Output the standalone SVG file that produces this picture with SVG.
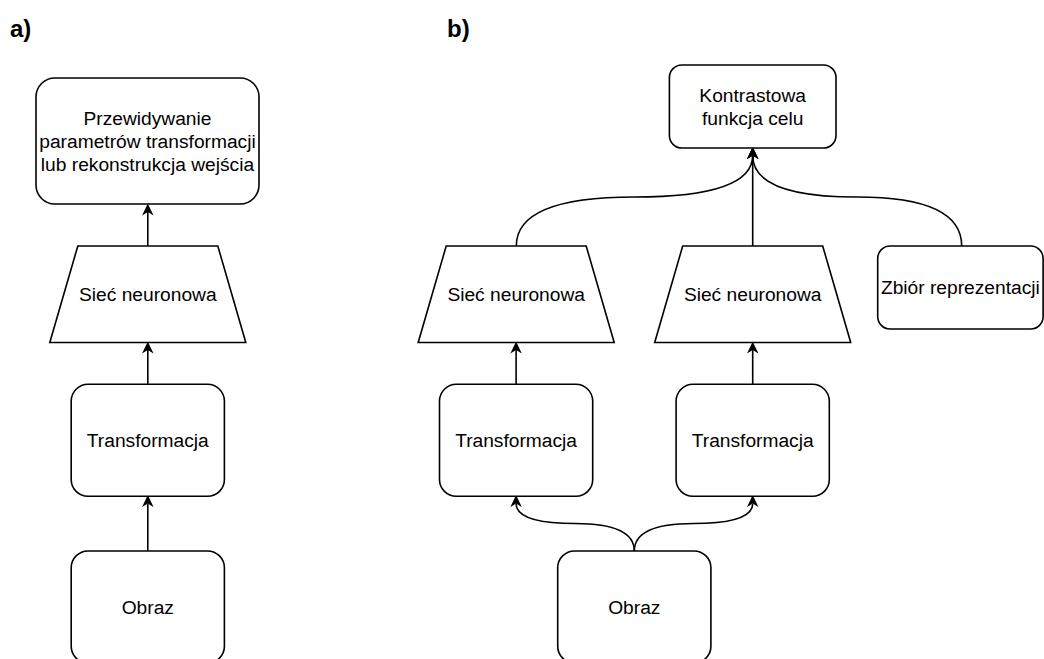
<svg xmlns="http://www.w3.org/2000/svg" width="1044" height="659" viewBox="0 0 1044 659">
<style>
.n{fill:#fff;stroke:#000;stroke-width:1.6}
.e{fill:none;stroke:#000;stroke-width:1.6}
.t{font-family:"Liberation Sans",Arial,sans-serif;font-size:19.2px;fill:#000;text-anchor:middle}
.lbl{font-family:"Liberation Sans",Arial,sans-serif;font-size:24px;font-weight:bold;fill:#000}
</style>
<defs>
<marker id="arr" markerUnits="userSpaceOnUse" markerWidth="12" markerHeight="12" viewBox="0 0 10 9.6" refX="3" refY="4.8" orient="auto">
<path d="M0,0 L10,4.8 L0,9.6 L3,4.8 Z" fill="#000"/>
</marker>
</defs>
<rect width="1044" height="659" fill="#fff"/>
<text class="lbl" x="10" y="37">a)</text>
<text class="lbl" x="447" y="37">b)</text>

<g id="connectors">
<path class="e" d="M147.8,246 L147.8,212" marker-end="url(#arr)"/>
<path class="e" d="M147.8,384.3 L147.8,350" marker-end="url(#arr)"/>
<path class="e" d="M147.8,551 L147.8,503.5" marker-end="url(#arr)"/>
<path class="e" d="M516.1,384.3 L516.1,350" marker-end="url(#arr)"/>
<path class="e" d="M752.7,384.3 L752.7,350" marker-end="url(#arr)"/>
<path class="e" d="M752.7,246 L752.7,155.5" marker-end="url(#arr)"/>
<path class="e" d="M516.3,246 Q516.3,197 634.5,197 Q752.7,197 752.7,155.5" marker-end="url(#arr)"/>
<path class="e" d="M961.7,246 Q961.7,197 857.2,197 Q752.7,197 752.7,155.5" marker-end="url(#arr)"/>
<path class="e" d="M634.3,551 Q634.3,523.5 575.2,523.5 Q516.1,523.5 516.1,503.5" marker-end="url(#arr)"/>
<path class="e" d="M634.3,551 Q634.3,523.5 693.5,523.5 Q752.7,523.5 752.7,503.5" marker-end="url(#arr)"/>
</g>

<g id="a-pred">
<rect class="n" x="36" y="78" width="223" height="126" rx="18.9"/>
<text class="t" x="147.5" y="124.5">Przewidywanie</text>
<text class="t" x="147.5" y="147.7">parametrów transformacji</text>
<text class="t" x="147.5" y="170.9">lub rekonstrukcja wejścia</text>
</g>
<g id="a-net">
<polygon class="n" points="77.8,246 217.8,246 245.8,342.5 49.8,342.5"/>
<text class="t" x="147.8" y="301">Sieć neuronowa</text>
</g>
<g id="a-transf">
<rect class="n" x="71.2" y="384.3" width="153.2" height="112" rx="16.8"/>
<text class="t" x="147.8" y="447">Transformacja</text>
</g>
<g id="a-obraz">
<rect class="n" x="71.2" y="551" width="153.2" height="112" rx="16.8"/>
<text class="t" x="147.8" y="614">Obraz</text>
</g>

<g id="b-kontr">
<rect class="n" x="669.4" y="65" width="166.6" height="83" rx="12.5"/>
<text class="t" x="752.7" y="101.5">Kontrastowa</text>
<text class="t" x="752.7" y="124.7">funkcja celu</text>
</g>
<g id="b-net1">
<polygon class="n" points="446.2,246 586.2,246 614.2,342.5 418.2,342.5"/>
<text class="t" x="516.2" y="301">Sieć neuronowa</text>
</g>
<g id="b-net2">
<polygon class="n" points="682.7,246 822.7,246 850.7,342.5 654.7,342.5"/>
<text class="t" x="752.7" y="301">Sieć neuronowa</text>
</g>
<g id="b-zbior">
<rect class="n" x="877.7" y="246" width="165.4" height="83" rx="12.4"/>
<text class="t" x="960.4" y="294">Zbiór reprezentacji</text>
</g>
<g id="b-transf1">
<rect class="n" x="439.5" y="384.3" width="153.2" height="112" rx="16.8"/>
<text class="t" x="516.1" y="447">Transformacja</text>
</g>
<g id="b-transf2">
<rect class="n" x="676.1" y="384.3" width="153.2" height="112" rx="16.8"/>
<text class="t" x="752.7" y="447">Transformacja</text>
</g>
<g id="b-obraz">
<rect class="n" x="557.7" y="551" width="153.2" height="112" rx="16.8"/>
<text class="t" x="634.3" y="614">Obraz</text>
</g>
</svg>
